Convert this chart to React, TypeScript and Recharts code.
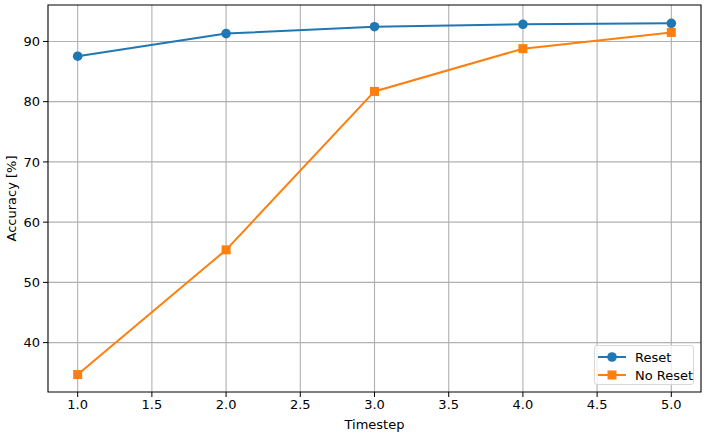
import {
  LineChart,
  Line,
  XAxis,
  YAxis,
  CartesianGrid,
  ReferenceArea,
} from 'recharts';

const timesteps = [1, 2, 3, 4, 5];
const resetAcc = [87.55, 91.3, 92.45, 92.85, 93.0];
const noResetAcc = [34.7, 55.4, 81.7, 88.8, 91.5];
const xTicks = [1.0, 1.5, 2.0, 2.5, 3.0, 3.5, 4.0, 4.5, 5.0];
const yTicks = [40, 50, 60, 70, 80, 90];
const seriesNames = ['Reset', 'No Reset'];

const BLUE = '#1f77b4';
const ORANGE = '#ff7f0e';
const FONT = '"DejaVu Sans", sans-serif';

const data = timesteps.map((t, i) => ({
  t,
  reset: resetAcc[i],
  noReset: noResetAcc[i],
}));

function SquareDot(props: any) {
  const { cx, cy } = props;
  if (cx == null || cy == null) return null;
  return <rect x={cx - 4.5} y={cy - 4.5} width={9} height={9} fill={ORANGE} />;
}

function CircleDot(props: any) {
  const { cx, cy } = props;
  if (cx == null || cy == null) return null;
  return <circle cx={cx} cy={cy} r={4.8} fill={BLUE} />;
}

const tickStyle = { fontSize: 13, fill: '#000', fontFamily: FONT };

export default function App() {
  return (
    <div style={{ position: 'absolute', left: 0, top: 0, width: 708, height: 436, background: '#fff', fontFamily: FONT }}>
      <LineChart width={708} height={436} data={data} margin={{ top: 5, right: 7, left: 0, bottom: 0 }}>
        <CartesianGrid stroke="#b0b0b0" strokeWidth={1.1} horizontalValues={yTicks} verticalValues={xTicks} />
        <XAxis
          dataKey="t"
          type="number"
          domain={[0.8, 5.2]}
          ticks={xTicks}
          allowDataOverflow
          tickFormatter={(v: number) => v.toFixed(1)}
          height={44}
          tick={tickStyle}
          tickSize={5}
          tickMargin={3}
          tickLine={{ stroke: '#000' }}
          axisLine={false}
          label={{ value: 'Timestep', position: 'insideBottom', offset: 7, style: { fontSize: 13, fill: '#000', fontFamily: FONT } }}
        />
        <YAxis
          type="number"
          domain={[31.8, 96.05]}
          ticks={yTicks}
          allowDataOverflow
          width={48}
          tick={tickStyle}
          tickSize={5}
          tickMargin={3}
          tickLine={{ stroke: '#000' }}
          axisLine={false}
          label={{ value: 'Accuracy [%]', angle: -90, position: 'insideLeft', offset: 0, dx: 11, style: { fontSize: 13, fill: '#000', fontFamily: FONT, textAnchor: 'middle' } }}
        />
        <ReferenceArea x1={0.8} x2={5.2} y1={31.8} y2={96.05} fill="none" stroke="#000" strokeWidth={1.1} ifOverflow="visible" />
        <Line
          type="linear"
          dataKey="reset"
          name={seriesNames[0]}
          stroke={BLUE}
          strokeWidth={2}
          dot={<CircleDot />}
          activeDot={false}
          isAnimationActive={false}
        />
        <Line
          type="linear"
          dataKey="noReset"
          name={seriesNames[1]}
          stroke={ORANGE}
          strokeWidth={2}
          dot={<SquareDot />}
          activeDot={false}
          isAnimationActive={false}
        />
      </LineChart>
      <div
        style={{
          position: 'absolute',
          left: 594,
          top: 345,
          width: 100,
          height: 40,
          boxSizing: 'border-box',
          border: '1px solid #d9d9d9',
          borderRadius: 3,
          background: 'rgba(255,255,255,0.8)',
          fontSize: 13,
          color: '#000',
        }}
      >
        {seriesNames.map((name, i) => (
          <div key={name} style={{ position: 'absolute', left: 3, top: 2 + i * 18, height: 18, display: 'flex', alignItems: 'center' }}>
            <svg width={28} height={12}>
              <line x1={0} y1={6} x2={28} y2={6} stroke={i === 0 ? BLUE : ORANGE} strokeWidth={2} />
              {i === 0 ? (
                <circle cx={14} cy={6} r={4.8} fill={BLUE} />
              ) : (
                <rect x={9.5} y={1.5} width={9} height={9} fill={ORANGE} />
              )}
            </svg>
            <span style={{ marginLeft: 9, whiteSpace: 'nowrap' }}>{name}</span>
          </div>
        ))}
      </div>
    </div>
  );
}
